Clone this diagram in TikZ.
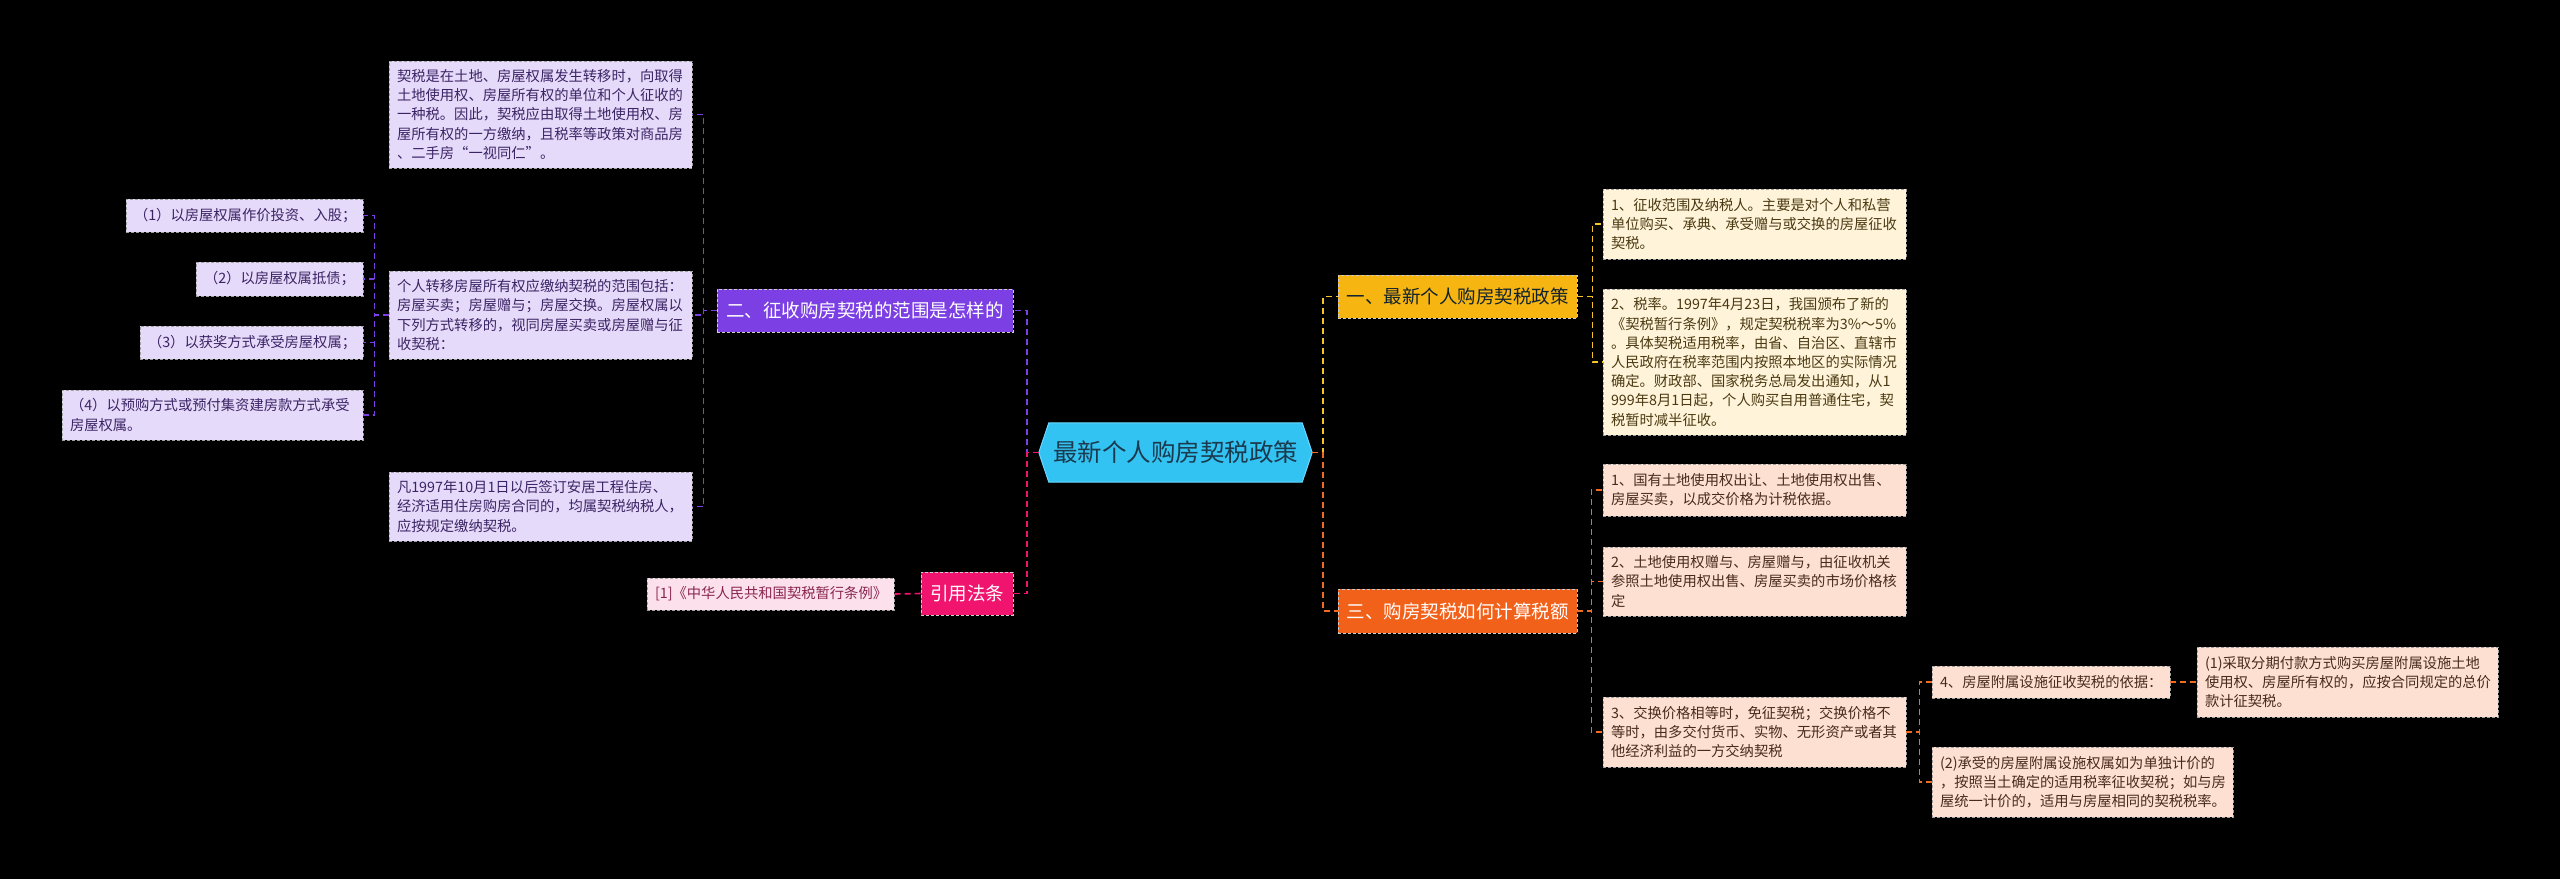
\documentclass[tikz,border=0pt]{standalone}
\usepackage{fontspec}
\setmainfont{Noto Sans CJK SC}
\usetikzlibrary{backgrounds}
\definecolor{cfill}{HTML}{33C3F2}
\definecolor{cborder}{HTML}{6AD8FF}
\definecolor{ctext}{HTML}{1B3A4E}
\definecolor{pmain}{HTML}{7B3FE4}
\definecolor{plight}{HTML}{E6DAFA}
\definecolor{ptext}{HTML}{3B2465}
\definecolor{kmain}{HTML}{F0146E}
\definecolor{klight}{HTML}{FCE1EC}
\definecolor{ktext}{HTML}{8A2550}
\definecolor{ymain}{HTML}{F7B511}
\definecolor{yline}{HTML}{F5C42A}
\definecolor{ylight}{HTML}{FFF4D9}
\definecolor{ytext}{HTML}{4A3A12}
\definecolor{omain}{HTML}{F2611A}
\definecolor{oline}{HTML}{F06A22}
\definecolor{olight}{HTML}{FDE0D2}
\definecolor{otext}{HTML}{4A2A1C}
\begin{document}
\begin{tikzpicture}[x=1pt,y=-1pt,
  leaf/.style={draw=gray!75, dash pattern=on 3pt off 2pt, line width=0.8pt, align=left,
    inner xsep=8pt, inner ysep=0pt, anchor=center, font=\fontsize{14.3}{19.2}\selectfont},
  leafP/.style={leaf, fill=plight, text=ptext},
  leafK/.style={leaf, fill=klight, text=ktext},
  leafY/.style={leaf, fill=ylight, text=ytext},
  leafO/.style={leaf, fill=olight, text=otext},
  branch/.style={draw=white!60!gray, dash pattern=on 3pt off 2pt, line width=0.8pt,
    inner sep=0pt, minimum height=43pt, font=\fontsize{18.5}{22}\selectfont},
  link/.style={line width=1.6pt, dash pattern=on 6pt off 4pt},
  linkP/.style={link, draw=pmain},
  linkK/.style={link, draw=kmain},
  linkY/.style={link, draw=yline},
  linkO/.style={link, draw=oline}
]
\begin{scope}[on background layer]
\fill[black] (0,0) rectangle (2560,879);
\end{scope}
\useasboundingbox (0,0) rectangle (2560,879);

% center
\node (c) at (1175.5,452.5) [minimum width=273pt, minimum height=59pt, inner sep=0pt,
  font=\fontsize{24.5}{28}\selectfont, text=ctext] {最新个人购房契税政策};
\begin{scope}[on background layer]
\filldraw[fill=cfill, draw=cborder, line width=1pt] (c.west) -- ([xshift=10pt]c.north west) -- ([xshift=-10pt]c.north east)
  -- (c.east) -- ([xshift=-10pt]c.south east) -- ([xshift=10pt]c.south west) -- cycle;
\end{scope}

% branches
\node[branch, fill=pmain, text=white, minimum width=296pt] (P) at (865,310.5) {二、征收购房契税的范围是怎样的};
\node[branch, fill=kmain, text=white, minimum width=92pt, minimum height=43pt] (K) at (967,593.5) {引用法条};
\node[branch, fill=ymain, text=ctext!60!black, minimum width=239pt] (Y) at (1457.5,296.5) {一、最新个人购房契税政策};
\node[branch, fill=omain, text=white, minimum width=239pt, minimum height=44pt] (O) at (1457.5,611) {三、购房契税如何计算税额};

% left leaves
\node[leafP, text width=287pt, minimum height=107pt] (A) at (540.5,114.5) {契税是在土地、房屋权属发生转移时，向取得\\土地使用权、房屋所有权的单位和个人征收的\\一种税。因此，契税应由取得土地使用权、房\\屋所有权的一方缴纳，且税率等政策对商品房\\、二手房“一视同仁”。};
\node[leafP, text width=287pt, minimum height=88pt] (B) at (540.5,315) {个人转移房屋所有权应缴纳契税的范围包括：\\房屋买卖；房屋赠与；房屋交换。房屋权属以\\下列方式转移的，视同房屋买卖或房屋赠与征\\收契税：};
\node[leafP, text width=287pt, minimum height=69pt] (C) at (540.5,506.5) {凡1997年10月1日以后签订安居工程住房、\\经济适用住房购房合同的，均属契税纳税人，\\应按规定缴纳契税。};
\node[leafP, text width=221pt, minimum height=33pt] (L1) at (244.5,215.5) {（1）以房屋权属作价投资、入股；};
\node[leafP, text width=151pt, minimum height=34pt] (L2) at (279.5,279) {（2）以房屋权属抵债；};
\node[leafP, text width=207pt, minimum height=33pt] (L3) at (251.5,342.5) {（3）以获奖方式承受房屋权属；};
\node[leafP, text width=285pt, minimum height=50pt] (L4) at (212.5,415) {（4）以预购方式或预付集资建房款方式承受\\房屋权属。};
\node[leafK, text width=231pt, minimum height=32pt] (R) at (770.5,594) {[1]《中华人民共和国契税暂行条例》};

% right leaves
\node[leafY, text width=287pt, minimum height=70pt] (Y1) at (1754.5,224) {1、征收范围及纳税人。主要是对个人和私营\\单位购买、承典、承受赠与或交换的房屋征收\\契税。};
\node[leafY, text width=287pt, minimum height=146pt] (Y2) at (1754.5,362) {2、税率。1997年4月23日，我国颁布了新的\\《契税暂行条例》，规定契税税率为3\%～5\%\\。具体契税适用税率，由省、自治区、直辖市\\人民政府在税率范围内按照本地区的实际情况\\确定。财政部、国家税务总局发出通知，从1\\999年8月1日起，个人购买自用普通住宅，契\\税暂时减半征收。};
\node[leafO, text width=287pt, minimum height=52pt] (O1) at (1754.5,490) {1、国有土地使用权出让、土地使用权出售、\\房屋买卖，以成交价格为计税依据。};
\node[leafO, text width=287pt, minimum height=69pt] (O2) at (1754.5,581.5) {2、土地使用权赠与、房屋赠与，由征收机关\\参照土地使用权出售、房屋买卖的市场价格核\\定};
\node[leafO, text width=287pt, minimum height=70pt] (O3) at (1754.5,732) {3、交换价格相等时，免征契税；交换价格不\\等时，由多交付货币、实物、无形资产或者其\\他经济利益的一方交纳契税};
\node[leafO, text width=222pt, minimum height=32pt] (O4) at (2051,682) {4、房屋附属设施征收契税的依据：};
\node[leafO, text width=285pt, minimum height=70pt] (O5) at (2347.5,682) {(1)采取分期付款方式购买房屋附属设施土地\\使用权、房屋所有权的，应按合同规定的总价\\款计征契税。};
\node[leafO, text width=285pt, minimum height=70pt] (O6) at (2082.5,782) {(2)承受的房屋附属设施权属如为单独计价的\\，按照当土确定的适用税率征收契税；如与房\\屋统一计价的，适用与房屋相同的契税税率。};

% connectors
\draw[linkP] (c.west) -- ++(-12,0) |- (P.east);
\draw[linkK] (c.west) -- ++(-12,0) |- (K.east);
\draw[linkY] (c.east) -- ++(11,0) |- (Y.west);
\draw[linkO] (c.east) -- ++(11,0) |- (O.west);

\draw[linkP] (P.west) -- ++(-13,0) |- (A.east);
\draw[linkP] (P.west) -- ++(-13,0) |- (B.east);
\draw[linkP] (P.west) -- ++(-13,0) |- (C.east);
\draw[linkP] (B.west) -- ++(-14,0) |- (L1.east);
\draw[linkP] (B.west) -- ++(-14,0) |- (L2.east);
\draw[linkP] (B.west) -- ++(-14,0) |- (L3.east);
\draw[linkP] (B.west) -- ++(-14,0) |- (L4.east);
\draw[linkK] (K.west) -- (R.east);

\draw[linkY] (Y.east) -- ++(15,0) |- (Y1.west);
\draw[linkY] (Y.east) -- ++(15,0) |- (Y2.west);
\draw[linkO] (O.east) -- ++(14,0) |- (O1.west);
\draw[linkO] (O.east) -- ++(14,0) |- (O2.west);
\draw[linkO] (O.east) -- ++(14,0) |- (O3.west);
\draw[linkO] (O3.east) -- ++(13,0) |- (O4.west);
\draw[linkO] (O3.east) -- ++(13,0) |- (O6.west);
\draw[linkO] (O4.east) -- (O5.west);
\end{tikzpicture}
\end{document}
